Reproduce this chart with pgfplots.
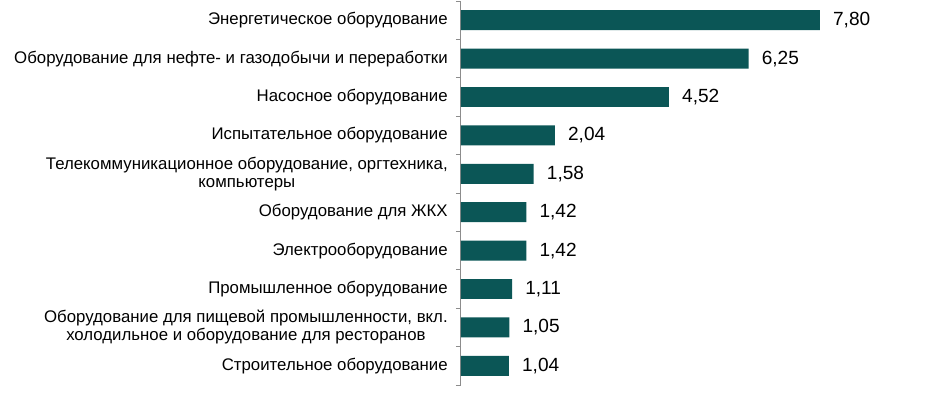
\documentclass[border=0pt]{standalone}
\usepackage{fontspec}
\setmainfont{Liberation Sans}
\usepackage{pgfplots}
\pgfplotsset{compat=1.18}
\definecolor{barc}{HTML}{0B5656}
\definecolor{axc}{HTML}{8C8C8C}
\begin{document}
\begin{tikzpicture}
\path[use as bounding box] (-345.75pt,-6.75pt) rectangle (363pt,288.75pt);
\begin{axis}[
  at={(0pt,0pt)}, anchor=south west,
  scale only axis, width=363pt, height=288pt,
  xbar, xmin=0, xmax=10.52,
  ymin=-0.5, ymax=9.5, y dir=reverse,
  axis x line=none, axis y line*=left,
  y axis line style={axc, line width=0.75pt},
  xtick=\empty,
  ytick={0,...,9},
  yticklabels={
    {Энергетическое оборудование},
    {Оборудование для нефте- и газодобычи и переработки},
    {Насосное оборудование},
    {Испытательное оборудование},
    {Телекоммуникационное оборудование, оргтехника,\\компьютеры},
    {Оборудование для ЖКХ},
    {Электрооборудование},
    {Промышленное оборудование},
    {Оборудование для пищевой промышленности, вкл.\\холодильное и оборудование для ресторанов},
    {Строительное оборудование}},
  yticklabel style={font=\fontsize{12.6}{13.5}\selectfont, align=center, inner sep=0pt, xshift=-9.75pt},
  major tick length=0pt,
  minor ytick={-0.5,0.5,...,9.5},
  minor tick length=3.75pt,
  tick align=outside,
  minor tick style={axc, line width=0.75pt},
  bar width=0.52,
  /pgf/number format/.cd, fixed, fixed zerofill, precision=2, use comma, assume math mode=true,
  /pgfplots/.cd,
  nodes near coords,
  nodes near coords style={anchor=west, inner sep=0pt, xshift=9.75pt, font=\fontsize{14.3}{16}\selectfont, black},
  clip=false,
]
\addplot[fill=barc, draw=none] coordinates {
  (7.80,0) (6.25,1) (4.52,2) (2.04,3) (1.58,4) (1.42,5) (1.42,6) (1.11,7) (1.05,8) (1.04,9)
};
\end{axis}
\end{tikzpicture}
\end{document}
